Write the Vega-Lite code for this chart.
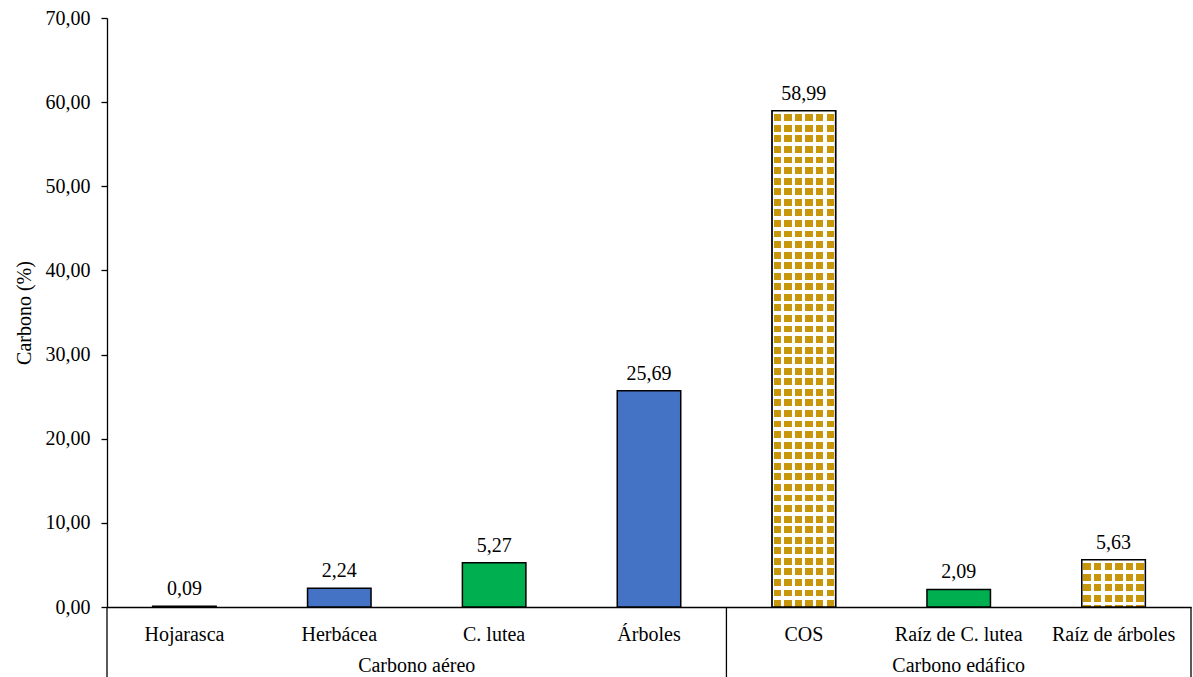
{
  "$schema": "https://vega.github.io/schema/vega-lite/v6.json",
  "width": 1084,
  "height": 589,
  "autosize": {"type": "none"},
  "padding": {"left": 107, "top": 18, "right": 2, "bottom": 70},
  "background": "#ffffff",
  "data": {
    "values": [
      {"categoria": "Hojarasca", "grupo": "Carbono aéreo", "carbono": 0.09},
      {"categoria": "Herbácea", "grupo": "Carbono aéreo", "carbono": 2.24},
      {"categoria": "C. lutea", "grupo": "Carbono aéreo", "carbono": 5.27},
      {"categoria": "Árboles", "grupo": "Carbono aéreo", "carbono": 25.69},
      {"categoria": "COS", "grupo": "Carbono edáfico", "carbono": 58.99},
      {"categoria": "Raíz de C. lutea", "grupo": "Carbono edáfico", "carbono": 2.09},
      {"categoria": "Raíz de árboles", "grupo": "Carbono edáfico", "carbono": 5.63}
    ]
  },
  "encoding": {
    "x": {
      "field": "categoria", "type": "nominal", "sort": null, "title": null,
      "scale": {"domain": ["Hojarasca", "Herbácea", "C. lutea", "Árboles", "COS", "Raíz de C. lutea", "Raíz de árboles"], "paddingInner": 0.59, "paddingOuter": 0.295},
      "axis": {"labelAngle": 0, "ticks": false, "tickSize": 0, "labelPadding": 33, "labelBaseline": "alphabetic", "domainWidth": 1.3}
    },
    "y": {
      "field": "carbono", "type": "quantitative", "title": "Carbono (%)",
      "scale": {"domain": [0, 70], "nice": false, "zero": true},
      "axis": {"values": [0, 10, 20, 30, 40, 50, 60, 70], "format": ".2f", "tickSize": 6, "labelPadding": 11, "titlePadding": 11, "domainWidth": 1.3, "tickWidth": 1.3}
    }
  },
  "layer": [
    {
      "mark": {"type": "bar", "stroke": "#000000", "strokeWidth": 1.5},
      "encoding": {
        "color": {
          "field": "categoria", "type": "nominal", "legend": null,
          "scale": {"domain": ["Hojarasca", "Herbácea", "C. lutea", "Árboles", "COS", "Raíz de C. lutea", "Raíz de árboles"],
                    "range": ["#4472C4", "#4472C4", "#00B050", "#4472C4", "#ffffff", "#00B050", "#ffffff"]}
        }
      }
    },
    {
      "transform": [{"filter": "datum.categoria == 'COS' || datum.categoria == 'Raíz de árboles'"}],
      "mark": {"type": "bar", "fill": {"gradient": "linear", "x1": 0, "y1": 0, "x2": 1, "y2": 0, "stops": [
        {"offset": 0, "color": "#ffffff"}, {"offset": 0.025, "color": "#ffffff"}, {"offset": 0.025, "color": "#C8960A"}, {"offset": 0.1417, "color": "#C8960A"},
        {"offset": 0.1417, "color": "#ffffff"}, {"offset": 0.1917, "color": "#ffffff"}, {"offset": 0.1917, "color": "#C8960A"}, {"offset": 0.3083, "color": "#C8960A"},
        {"offset": 0.3083, "color": "#ffffff"}, {"offset": 0.3583, "color": "#ffffff"}, {"offset": 0.3583, "color": "#C8960A"}, {"offset": 0.475, "color": "#C8960A"},
        {"offset": 0.475, "color": "#ffffff"}, {"offset": 0.525, "color": "#ffffff"}, {"offset": 0.525, "color": "#C8960A"}, {"offset": 0.6417, "color": "#C8960A"},
        {"offset": 0.6417, "color": "#ffffff"}, {"offset": 0.6917, "color": "#ffffff"}, {"offset": 0.6917, "color": "#C8960A"}, {"offset": 0.8083, "color": "#C8960A"},
        {"offset": 0.8083, "color": "#ffffff"}, {"offset": 0.8583, "color": "#ffffff"}, {"offset": 0.8583, "color": "#C8960A"}, {"offset": 0.975, "color": "#C8960A"},
        {"offset": 0.975, "color": "#ffffff"}, {"offset": 1, "color": "#ffffff"}
      ]}}
    },
    {
      "transform": [{"filter": "datum.categoria == 'COS'"}],
      "mark": {"type": "bar", "fill": {"gradient": "linear", "x1": 0, "y1": 0, "x2": 0, "y2": 1, "stops": [
        {"offset": 0, "color": "#ffffff"}, {"offset": 0.0074, "color": "#ffffff"}, {"offset": 0.0074, "color": "rgba(255,255,255,0)"}, {"offset": 0.0213, "color": "rgba(255,255,255,0)"},
        {"offset": 0.0213, "color": "#ffffff"}, {"offset": 0.0287, "color": "#ffffff"}, {"offset": 0.0287, "color": "rgba(255,255,255,0)"}, {"offset": 0.0426, "color": "rgba(255,255,255,0)"},
        {"offset": 0.0426, "color": "#ffffff"}, {"offset": 0.05, "color": "#ffffff"}, {"offset": 0.05, "color": "rgba(255,255,255,0)"}, {"offset": 0.0638, "color": "rgba(255,255,255,0)"},
        {"offset": 0.0638, "color": "#ffffff"}, {"offset": 0.0713, "color": "#ffffff"}, {"offset": 0.0713, "color": "rgba(255,255,255,0)"}, {"offset": 0.0851, "color": "rgba(255,255,255,0)"},
        {"offset": 0.0851, "color": "#ffffff"}, {"offset": 0.0926, "color": "#ffffff"}, {"offset": 0.0926, "color": "rgba(255,255,255,0)"}, {"offset": 0.1064, "color": "rgba(255,255,255,0)"},
        {"offset": 0.1064, "color": "#ffffff"}, {"offset": 0.1138, "color": "#ffffff"}, {"offset": 0.1138, "color": "rgba(255,255,255,0)"}, {"offset": 0.1277, "color": "rgba(255,255,255,0)"},
        {"offset": 0.1277, "color": "#ffffff"}, {"offset": 0.1351, "color": "#ffffff"}, {"offset": 0.1351, "color": "rgba(255,255,255,0)"}, {"offset": 0.1489, "color": "rgba(255,255,255,0)"},
        {"offset": 0.1489, "color": "#ffffff"}, {"offset": 0.1564, "color": "#ffffff"}, {"offset": 0.1564, "color": "rgba(255,255,255,0)"}, {"offset": 0.1702, "color": "rgba(255,255,255,0)"},
        {"offset": 0.1702, "color": "#ffffff"}, {"offset": 0.1777, "color": "#ffffff"}, {"offset": 0.1777, "color": "rgba(255,255,255,0)"}, {"offset": 0.1915, "color": "rgba(255,255,255,0)"},
        {"offset": 0.1915, "color": "#ffffff"}, {"offset": 0.1989, "color": "#ffffff"}, {"offset": 0.1989, "color": "rgba(255,255,255,0)"}, {"offset": 0.2128, "color": "rgba(255,255,255,0)"},
        {"offset": 0.2128, "color": "#ffffff"}, {"offset": 0.2202, "color": "#ffffff"}, {"offset": 0.2202, "color": "rgba(255,255,255,0)"}, {"offset": 0.234, "color": "rgba(255,255,255,0)"},
        {"offset": 0.234, "color": "#ffffff"}, {"offset": 0.2415, "color": "#ffffff"}, {"offset": 0.2415, "color": "rgba(255,255,255,0)"}, {"offset": 0.2553, "color": "rgba(255,255,255,0)"},
        {"offset": 0.2553, "color": "#ffffff"}, {"offset": 0.2628, "color": "#ffffff"}, {"offset": 0.2628, "color": "rgba(255,255,255,0)"}, {"offset": 0.2766, "color": "rgba(255,255,255,0)"},
        {"offset": 0.2766, "color": "#ffffff"}, {"offset": 0.284, "color": "#ffffff"}, {"offset": 0.284, "color": "rgba(255,255,255,0)"}, {"offset": 0.2979, "color": "rgba(255,255,255,0)"},
        {"offset": 0.2979, "color": "#ffffff"}, {"offset": 0.3053, "color": "#ffffff"}, {"offset": 0.3053, "color": "rgba(255,255,255,0)"}, {"offset": 0.3191, "color": "rgba(255,255,255,0)"},
        {"offset": 0.3191, "color": "#ffffff"}, {"offset": 0.3266, "color": "#ffffff"}, {"offset": 0.3266, "color": "rgba(255,255,255,0)"}, {"offset": 0.3404, "color": "rgba(255,255,255,0)"},
        {"offset": 0.3404, "color": "#ffffff"}, {"offset": 0.3479, "color": "#ffffff"}, {"offset": 0.3479, "color": "rgba(255,255,255,0)"}, {"offset": 0.3617, "color": "rgba(255,255,255,0)"},
        {"offset": 0.3617, "color": "#ffffff"}, {"offset": 0.3691, "color": "#ffffff"}, {"offset": 0.3691, "color": "rgba(255,255,255,0)"}, {"offset": 0.383, "color": "rgba(255,255,255,0)"},
        {"offset": 0.383, "color": "#ffffff"}, {"offset": 0.3904, "color": "#ffffff"}, {"offset": 0.3904, "color": "rgba(255,255,255,0)"}, {"offset": 0.4043, "color": "rgba(255,255,255,0)"},
        {"offset": 0.4043, "color": "#ffffff"}, {"offset": 0.4117, "color": "#ffffff"}, {"offset": 0.4117, "color": "rgba(255,255,255,0)"}, {"offset": 0.4255, "color": "rgba(255,255,255,0)"},
        {"offset": 0.4255, "color": "#ffffff"}, {"offset": 0.433, "color": "#ffffff"}, {"offset": 0.433, "color": "rgba(255,255,255,0)"}, {"offset": 0.4468, "color": "rgba(255,255,255,0)"},
        {"offset": 0.4468, "color": "#ffffff"}, {"offset": 0.4543, "color": "#ffffff"}, {"offset": 0.4543, "color": "rgba(255,255,255,0)"}, {"offset": 0.4681, "color": "rgba(255,255,255,0)"},
        {"offset": 0.4681, "color": "#ffffff"}, {"offset": 0.4755, "color": "#ffffff"}, {"offset": 0.4755, "color": "rgba(255,255,255,0)"}, {"offset": 0.4894, "color": "rgba(255,255,255,0)"},
        {"offset": 0.4894, "color": "#ffffff"}, {"offset": 0.4968, "color": "#ffffff"}, {"offset": 0.4968, "color": "rgba(255,255,255,0)"}, {"offset": 0.5106, "color": "rgba(255,255,255,0)"},
        {"offset": 0.5106, "color": "#ffffff"}, {"offset": 0.5181, "color": "#ffffff"}, {"offset": 0.5181, "color": "rgba(255,255,255,0)"}, {"offset": 0.5319, "color": "rgba(255,255,255,0)"},
        {"offset": 0.5319, "color": "#ffffff"}, {"offset": 0.5394, "color": "#ffffff"}, {"offset": 0.5394, "color": "rgba(255,255,255,0)"}, {"offset": 0.5532, "color": "rgba(255,255,255,0)"},
        {"offset": 0.5532, "color": "#ffffff"}, {"offset": 0.5606, "color": "#ffffff"}, {"offset": 0.5606, "color": "rgba(255,255,255,0)"}, {"offset": 0.5745, "color": "rgba(255,255,255,0)"},
        {"offset": 0.5745, "color": "#ffffff"}, {"offset": 0.5819, "color": "#ffffff"}, {"offset": 0.5819, "color": "rgba(255,255,255,0)"}, {"offset": 0.5957, "color": "rgba(255,255,255,0)"},
        {"offset": 0.5957, "color": "#ffffff"}, {"offset": 0.6032, "color": "#ffffff"}, {"offset": 0.6032, "color": "rgba(255,255,255,0)"}, {"offset": 0.617, "color": "rgba(255,255,255,0)"},
        {"offset": 0.617, "color": "#ffffff"}, {"offset": 0.6245, "color": "#ffffff"}, {"offset": 0.6245, "color": "rgba(255,255,255,0)"}, {"offset": 0.6383, "color": "rgba(255,255,255,0)"},
        {"offset": 0.6383, "color": "#ffffff"}, {"offset": 0.6457, "color": "#ffffff"}, {"offset": 0.6457, "color": "rgba(255,255,255,0)"}, {"offset": 0.6596, "color": "rgba(255,255,255,0)"},
        {"offset": 0.6596, "color": "#ffffff"}, {"offset": 0.667, "color": "#ffffff"}, {"offset": 0.667, "color": "rgba(255,255,255,0)"}, {"offset": 0.6809, "color": "rgba(255,255,255,0)"},
        {"offset": 0.6809, "color": "#ffffff"}, {"offset": 0.6883, "color": "#ffffff"}, {"offset": 0.6883, "color": "rgba(255,255,255,0)"}, {"offset": 0.7021, "color": "rgba(255,255,255,0)"},
        {"offset": 0.7021, "color": "#ffffff"}, {"offset": 0.7096, "color": "#ffffff"}, {"offset": 0.7096, "color": "rgba(255,255,255,0)"}, {"offset": 0.7234, "color": "rgba(255,255,255,0)"},
        {"offset": 0.7234, "color": "#ffffff"}, {"offset": 0.7309, "color": "#ffffff"}, {"offset": 0.7309, "color": "rgba(255,255,255,0)"}, {"offset": 0.7447, "color": "rgba(255,255,255,0)"},
        {"offset": 0.7447, "color": "#ffffff"}, {"offset": 0.7521, "color": "#ffffff"}, {"offset": 0.7521, "color": "rgba(255,255,255,0)"}, {"offset": 0.766, "color": "rgba(255,255,255,0)"},
        {"offset": 0.766, "color": "#ffffff"}, {"offset": 0.7734, "color": "#ffffff"}, {"offset": 0.7734, "color": "rgba(255,255,255,0)"}, {"offset": 0.7872, "color": "rgba(255,255,255,0)"},
        {"offset": 0.7872, "color": "#ffffff"}, {"offset": 0.7947, "color": "#ffffff"}, {"offset": 0.7947, "color": "rgba(255,255,255,0)"}, {"offset": 0.8085, "color": "rgba(255,255,255,0)"},
        {"offset": 0.8085, "color": "#ffffff"}, {"offset": 0.816, "color": "#ffffff"}, {"offset": 0.816, "color": "rgba(255,255,255,0)"}, {"offset": 0.8298, "color": "rgba(255,255,255,0)"},
        {"offset": 0.8298, "color": "#ffffff"}, {"offset": 0.8372, "color": "#ffffff"}, {"offset": 0.8372, "color": "rgba(255,255,255,0)"}, {"offset": 0.8511, "color": "rgba(255,255,255,0)"},
        {"offset": 0.8511, "color": "#ffffff"}, {"offset": 0.8585, "color": "#ffffff"}, {"offset": 0.8585, "color": "rgba(255,255,255,0)"}, {"offset": 0.8723, "color": "rgba(255,255,255,0)"},
        {"offset": 0.8723, "color": "#ffffff"}, {"offset": 0.8798, "color": "#ffffff"}, {"offset": 0.8798, "color": "rgba(255,255,255,0)"}, {"offset": 0.8936, "color": "rgba(255,255,255,0)"},
        {"offset": 0.8936, "color": "#ffffff"}, {"offset": 0.9011, "color": "#ffffff"}, {"offset": 0.9011, "color": "rgba(255,255,255,0)"}, {"offset": 0.9149, "color": "rgba(255,255,255,0)"},
        {"offset": 0.9149, "color": "#ffffff"}, {"offset": 0.9223, "color": "#ffffff"}, {"offset": 0.9223, "color": "rgba(255,255,255,0)"}, {"offset": 0.9362, "color": "rgba(255,255,255,0)"},
        {"offset": 0.9362, "color": "#ffffff"}, {"offset": 0.9436, "color": "#ffffff"}, {"offset": 0.9436, "color": "rgba(255,255,255,0)"}, {"offset": 0.9574, "color": "rgba(255,255,255,0)"},
        {"offset": 0.9574, "color": "#ffffff"}, {"offset": 0.9649, "color": "#ffffff"}, {"offset": 0.9649, "color": "rgba(255,255,255,0)"}, {"offset": 0.9787, "color": "rgba(255,255,255,0)"},
        {"offset": 0.9787, "color": "#ffffff"}, {"offset": 0.9862, "color": "#ffffff"}, {"offset": 0.9862, "color": "rgba(255,255,255,0)"}, {"offset": 1, "color": "rgba(255,255,255,0)"}
      ]}}
    },
    {
      "transform": [{"filter": "datum.categoria == 'Raíz de árboles'"}],
      "mark": {"type": "bar", "fill": {"gradient": "linear", "x1": 0, "y1": 0, "x2": 0, "y2": 1, "stops": [
        {"offset": 0, "color": "#ffffff"}, {"offset": 0.0775, "color": "#ffffff"}, {"offset": 0.0775, "color": "rgba(255,255,255,0)"}, {"offset": 0.2215, "color": "rgba(255,255,255,0)"},
        {"offset": 0.2215, "color": "#ffffff"}, {"offset": 0.299, "color": "#ffffff"}, {"offset": 0.299, "color": "rgba(255,255,255,0)"}, {"offset": 0.443, "color": "rgba(255,255,255,0)"},
        {"offset": 0.443, "color": "#ffffff"}, {"offset": 0.5205, "color": "#ffffff"}, {"offset": 0.5205, "color": "rgba(255,255,255,0)"}, {"offset": 0.6645, "color": "rgba(255,255,255,0)"},
        {"offset": 0.6645, "color": "#ffffff"}, {"offset": 0.742, "color": "#ffffff"}, {"offset": 0.742, "color": "rgba(255,255,255,0)"}, {"offset": 0.886, "color": "rgba(255,255,255,0)"},
        {"offset": 0.886, "color": "#ffffff"}, {"offset": 0.9635, "color": "#ffffff"}, {"offset": 0.9635, "color": "rgba(255,255,255,0)"}, {"offset": 1, "color": "rgba(255,255,255,0)"}
      ]}}
    },
    {
      "transform": [{"filter": "datum.categoria == 'COS' || datum.categoria == 'Raíz de árboles'"}],
      "mark": {"type": "bar", "fill": "transparent", "stroke": "#000000", "strokeWidth": 1.5}
    },
    {
      "mark": {"type": "text", "baseline": "alphabetic", "dy": -11, "fontSize": 20, "font": "Liberation Serif", "color": "#000000"},
      "encoding": {"text": {"field": "carbono", "type": "quantitative", "format": ".2f"}}
    },
    {
      "transform": [{"filter": "datum.categoria == 'Hojarasca'"}],
      "mark": {"type": "rule", "color": "#000000", "strokeWidth": 1.3, "y2Offset": 70},
      "encoding": {"x": {"datum": "Hojarasca", "type": "nominal", "bandPosition": -0.7195}, "y": {"datum": 0, "type": "quantitative"}, "y2": {"datum": 0}}
    },
    {
      "transform": [{"filter": "datum.categoria == 'Árboles'"}],
      "mark": {"type": "rule", "color": "#000000", "strokeWidth": 1.3, "y2Offset": 70},
      "encoding": {"x": {"datum": "Árboles", "type": "nominal", "bandPosition": 1.7195}, "y": {"datum": 0, "type": "quantitative"}, "y2": {"datum": 0}}
    },
    {
      "transform": [{"filter": "datum.categoria == 'Raíz de árboles'"}],
      "mark": {"type": "rule", "color": "#000000", "strokeWidth": 1.3, "y2Offset": 70},
      "encoding": {"x": {"datum": "Raíz de árboles", "type": "nominal", "bandPosition": 1.7195}, "y": {"datum": 0, "type": "quantitative"}, "y2": {"datum": 0}}
    },
    {
      "transform": [{"filter": "datum.categoria == 'C. lutea'"}],
      "mark": {"type": "text", "baseline": "alphabetic", "dy": 65, "fontSize": 20, "font": "Liberation Serif", "color": "#000000"},
      "encoding": {"text": {"field": "grupo", "type": "nominal"}, "x": {"datum": "C. lutea", "type": "nominal", "bandPosition": -0.7195}, "y": {"datum": 0, "type": "quantitative"}}
    },
    {
      "transform": [{"filter": "datum.categoria == 'Raíz de C. lutea'"}],
      "mark": {"type": "text", "baseline": "alphabetic", "dy": 65, "fontSize": 20, "font": "Liberation Serif", "color": "#000000"},
      "encoding": {"text": {"field": "grupo", "type": "nominal"}, "x": {"datum": "Raíz de C. lutea", "type": "nominal", "bandPosition": 0.5}, "y": {"datum": 0, "type": "quantitative"}}
    }
  ],
  "config": {
    "view": {"stroke": null},
    "font": "Liberation Serif",
    "locale": {"number": {"decimal": ",", "thousands": ".", "grouping": [3], "currency": ["", " €"]}},
    "axis": {
      "labelFont": "Liberation Serif", "titleFont": "Liberation Serif",
      "labelColor": "#000000", "titleColor": "#000000",
      "domainColor": "#000000", "tickColor": "#000000",
      "grid": false, "labelFontSize": 20, "titleFontSize": 20, "titleFontWeight": "normal"
    }
  }
}
